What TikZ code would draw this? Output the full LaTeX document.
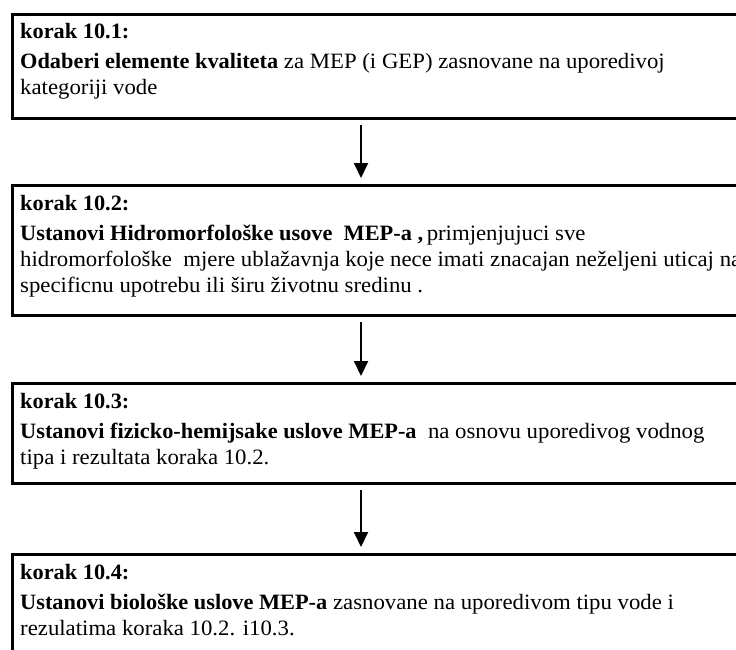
\documentclass[tikz,border=0pt]{standalone}
\usepackage{fontspec}
\setmainfont{Liberation Serif}[FakeStretch=1.04, BoldFeatures={FakeStretch=1.02}]
\usetikzlibrary{arrows.meta}

\tikzset{
  stepbox/.style={draw, line width=3.2pt, inner sep=0pt, anchor=north west,
                  minimum width=734pt},
  txt/.style={anchor=base west, inner sep=0pt,
              font=\fontsize{21.9}{26}\selectfont},
  flow/.style={line width=2pt, -{Triangle[width=14pt,length=15pt]},
               shorten <=5pt, shorten >=6pt}
}

\begin{document}
\begin{tikzpicture}[x=1pt,y=-1pt]
\useasboundingbox (0,0) rectangle (736,650);
\clip (0,0) rectangle (736,650);

% step boxes (right sides run past the page edge)
\node[stepbox, minimum height=104pt] (b1) at (10.5,13)  {};
\node[stepbox, minimum height=130pt] (b2) at (10.5,184) {};
\node[stepbox, minimum height=100pt] (b3) at (10.5,382) {};
\node[stepbox, minimum height=146pt] (b4) at (10.5,553) {};

% step 10.1
\node[txt] (h1) at (20,39) {\textbf{korak 10.1:}};
\node[txt] (t1a) at (20,69) {\textbf{Odaberi elemente kvaliteta} za MEP (i GEP) zasnovane na uporedivoj};
\node[txt] (t1b) at (20,95) {kategoriji vode};

% step 10.2
\node[txt] (h2) at (20,210) {\textbf{korak 10.2:}};
\node[txt] (t2a) at (20,240) {\textbf{Ustanovi Hidromorfološke usove~ MEP-a ,}\,primjenjujuci sve};
\node[txt] (t2b) at (20,266) {hidromorfološke~ mjere ublažavnja koje nece imati znacajan neželjeni uticaj na};
\node[txt] (t2c) at (20,292) {specificnu upotrebu ili širu životnu sredinu .};

% step 10.3
\node[txt] (h3) at (20,408) {\textbf{korak 10.3:}};
\node[txt] (t3a) at (20,438) {\textbf{Ustanovi fizicko-hemijsake uslove MEP-a}~ na osnovu uporedivog vodnog};
\node[txt] (t3b) at (20,464) {tipa i rezultata koraka 10.2.};

% step 10.4
\node[txt] (h4) at (20,579) {\textbf{korak 10.4:}};
\node[txt] (t4a) at (20,609) {\textbf{Ustanovi biološke uslove MEP-a} zasnovane na uporedivom tipu vode i};
\node[txt] (t4b) at (20,635) {rezulatima koraka 10.2. i10.3.};

% flow arrows
\coordinate (ax) at (361,0);
\draw[flow] (b1.south -| ax) -- (b2.north -| ax);
\draw[flow] (b2.south -| ax) -- (b3.north -| ax);
\draw[flow] (b3.south -| ax) -- (b4.north -| ax);
\end{tikzpicture}
\end{document}
